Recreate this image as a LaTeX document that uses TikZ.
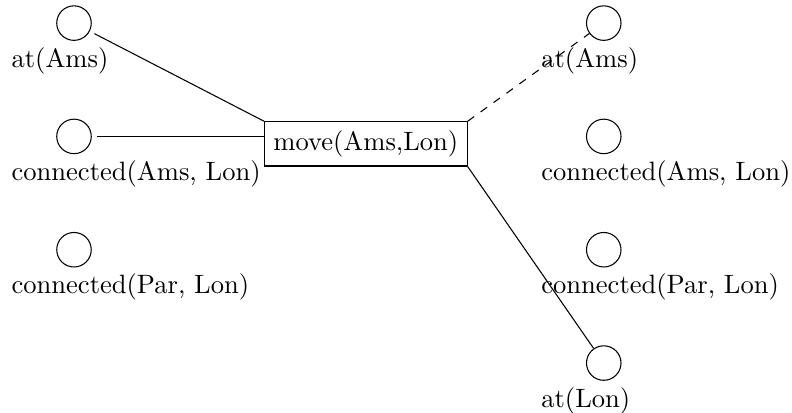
\documentclass[tikz,border=0pt]{standalone}
\begin{document}
\begin{tikzpicture}[x=1pt,y=1pt,
  fact/.style={circle,draw,minimum size=13pt,inner sep=0pt},
  lbl/.style={anchor=base west,inner sep=0pt},
  act/.style={draw,rectangle},
  pre/.style={shorten <=2pt}]
\useasboundingbox (0,0) rectangle (298.3,-155.2);
% left column (preconditions)
\node[fact] (l1) at (27.87,-8.7) {};
\node[fact] (l2) at (27.87,-51.38) {};
\node[fact] (l3) at (27.87,-94.06) {};
% right column (effects)
\node[fact] (r1) at (227.4,-8.7) {};
\node[fact] (r2) at (227.4,-51.38) {};
\node[fact] (r3) at (227.4,-94.06) {};
\node[fact] (r4) at (227.4,-136.74) {};
% labels
\node[lbl] (tl1) at ([shift={(-23.7,-16.6)}]l1.center) {at(Ams)};
\node[lbl] (tl2) at ([shift={(-23.7,-16.6)}]l2.center) {connected(Ams, Lon)};
\node[lbl] (tl3) at ([shift={(-23.7,-16.6)}]l3.center) {connected(Par, Lon)};
\node[lbl] (tr1) at ([shift={(-23.7,-16.6)}]r1.center) {at(Ams)};
\node[lbl] (tr2) at ([shift={(-23.7,-16.6)}]r2.center) {connected(Ams, Lon)};
\node[lbl] (tr3) at ([shift={(-23.7,-16.6)}]r3.center) {connected(Par, Lon)};
\node[lbl] (tr4) at ([shift={(-23.7,-16.6)}]r4.center) {at(Lon)};
% action
\node[act] (mv) at (137.8,-54.2) {move(Ams,Lon)};
% connectors
\draw[pre] (l1) -- (mv.north west);
\draw[pre] (l2) -- (l2 -| mv.west);
\draw[dashed] (mv.north east) -- (r1);
\draw (mv.south east) -- (r4);
\end{tikzpicture}
\end{document}
